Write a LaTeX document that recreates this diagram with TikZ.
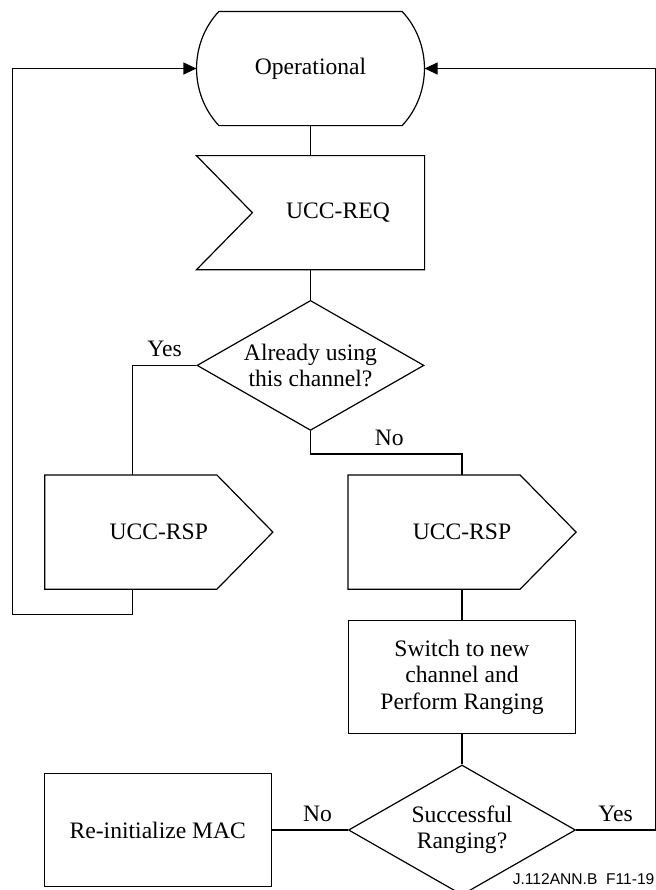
\documentclass[tikz,border=0pt]{standalone}
\usepackage{fontspec}
\setmainfont{Liberation Serif}
\setsansfont{Liberation Sans}
\usepackage{tikz}
\usetikzlibrary{arrows.meta,positioning,shapes.geometric}

\begin{document}
\begin{tikzpicture}[
  line width=0.6pt,
  shp/.style={minimum width=113.5pt, minimum height=56.5pt, inner sep=0pt, align=center, font=\fontsize{11.8pt}{13.3pt}\selectfont},
  box/.style={shp, draw},
  dec/.style={diamond, draw, aspect=1.75, minimum width=113.5pt, minimum height=65pt, inner sep=0pt, align=center, font=\fontsize{11.8pt}{13pt}\selectfont},
  arr/.style={-{Triangle[length=6.5pt, width=6pt]}},
  lbl/.style={anchor=base, yshift=4.5pt, inner sep=0pt, font=\fontsize{11.8pt}{13.3pt}\selectfont},
  figid/.style={inner sep=0pt, font=\fontsize{7.8pt}{8.5pt}\selectfont\sffamily}
]
  \useasboundingbox (0,0) rectangle (328pt,-445pt);

  \node[shp] (oper) at (155.25pt,-34.25pt) {Operational};
  \node[shp, below=15pt of oper] (req) {\hspace*{27.5pt}UCC-REQ};
  \node[dec, below=15pt of req] (dec1) {Already using\\this channel?};
  \node[shp, below=22pt of dec1, xshift=75.75pt] (rspR) {UCC-RSP};
  \node[shp, left=37.5pt of rspR] (rspL) {UCC-RSP};
  \node[box, below=15.5pt of rspR] (switch) {Switch to new\\channel and\\Perform Ranging};
  \node[dec, below=15pt of switch] (dec2) {Successful\\Ranging?};
  \node[box, left=38pt of dec2] (mac) {Re-initialize MAC};
  \node[figid, anchor=base east] (fignum) at (327.5pt,-442.35pt) {J.112ANN.B\ \ F11-19};

  % outlines of the non-standard shapes
  \draw ([xshift=11.25pt]oper.north west) -- ([xshift=-11.25pt]oper.north east)
    .. controls +(14.9pt,-15.9pt) and +(14.9pt,15.9pt) .. ([xshift=-11.25pt]oper.south east)
    -- ([xshift=11.25pt]oper.south west)
    .. controls +(-14.9pt,15.9pt) and +(-14.9pt,-15.9pt) .. cycle;
  \draw (req.north west) -- (req.north east) -- (req.south east) -- (req.south west)
    -- ([xshift=28pt]req.west) -- cycle;
  \foreach \n in {rspL,rspR}
    \draw (\n.north west) -- ([xshift=-28pt]\n.north east) -- (\n.east)
      -- ([xshift=-28pt]\n.south east) -- (\n.south west) -- cycle;

  \draw (oper) -- (req);
  \draw (req) -- (dec1);
  \draw (dec1.west) -| node[lbl, pos=0.25] {Yes} ([xshift=44pt]rspL.north west);
  \draw (dec1.south) -- ++(0,-11.5pt) -| node[lbl, pos=0.26] {No} (rspR.north);
  \draw[arr] ([xshift=44pt]rspL.south west) -- ++(0,-12.5pt) -| ([xshift=-92pt]oper.west) -- (oper.west);
  \draw (rspR) -- (switch);
  \draw (switch) -- (dec2);
  \draw (dec2.west) -- node[lbl, pos=0.4] {No} (mac.east);
  \draw[arr] (dec2.east) -- node[lbl] {Yes} ++(39.5pt,0) |- (oper.east);
\end{tikzpicture}
\end{document}
